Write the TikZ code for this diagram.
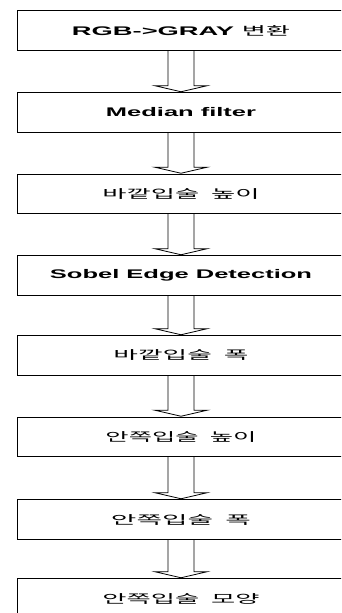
\documentclass[tikz,border=0pt]{standalone}
\usepackage{fontspec}
\usepackage{graphicx}
\setmainfont{Liberation Sans}
\newfontfamily\krfont{Noto Sans CJK KR}
\usetikzlibrary{calc}
\newcommand\wtext[2]{\resizebox{#1}{\height}{#2}}
\newcommand\flowarr[2]{%
  \draw[arr] ($(#1.south)+(-13pt,0)$) -- ($(#2.north)+(-13pt,7pt)$) -- ($(#2.north)+(-26pt,7pt)$)
    -- ($(#2.north)+(0,1pt)$) -- ($(#2.north)+(26pt,7pt)$) -- ($(#2.north)+(13pt,7pt)$)
    -- ($(#1.south)+(13pt,0)$);}
\tikzset{
  box/.style={draw=black, line width=0.8pt, rectangle, minimum width=328pt, minimum height=39.5pt,
    inner sep=0pt, outer sep=0pt, font=\fontsize{12.5pt}{14pt}\selectfont},
  arr/.style={draw=black, line width=0.8pt, line join=miter}
}
\begin{document}
\begin{tikzpicture}[x=1pt,y=1pt]
\useasboundingbox (0,0) rectangle (341,-613);
\clip (0,0) rectangle (341,-613);
\fill[white] (0,0) rectangle (341,-613);
\node[box] (b1) at (181,-30.5) {\wtext{218pt}{\bfseries RGB->GRAY \krfont\mdseries\fontsize{12pt}{14pt}\selectfont 변환}};
\node[box] (b2) at (181,-112.5) {\wtext{150pt}{\bfseries Median filter}};
\node[box] (b3) at (181,-194) {\wtext{157pt}{\krfont\fontsize{12pt}{14pt}\selectfont 바깥입술\ \ 높이}};
\node[box] (b4) at (181,-275.5) {\wtext{262pt}{\bfseries Sobel Edge Detection}};
\node[box] (b5) at (181,-355.5) {\wtext{135pt}{\krfont\fontsize{12pt}{14pt}\selectfont 바깥입술\ \ 폭}};
\node[box] (b6) at (181,-437) {\wtext{151pt}{\krfont\fontsize{12pt}{14pt}\selectfont 안쪽입술\ \ 높이}};
\node[box] (b7) at (181,-519.5) {\wtext{140pt}{\krfont\fontsize{12pt}{14pt}\selectfont 안쪽입술\ \ 폭}};
\node[box] (b8) at (181,-598.5) {\wtext{157pt}{\krfont\fontsize{12pt}{14pt}\selectfont 안쪽입술\ \ 모양}};
\flowarr{b1}{b2}
\flowarr{b2}{b3}
\flowarr{b3}{b4}
\flowarr{b4}{b5}
\flowarr{b5}{b6}
\flowarr{b6}{b7}
\flowarr{b7}{b8}
\end{tikzpicture}
\end{document}
